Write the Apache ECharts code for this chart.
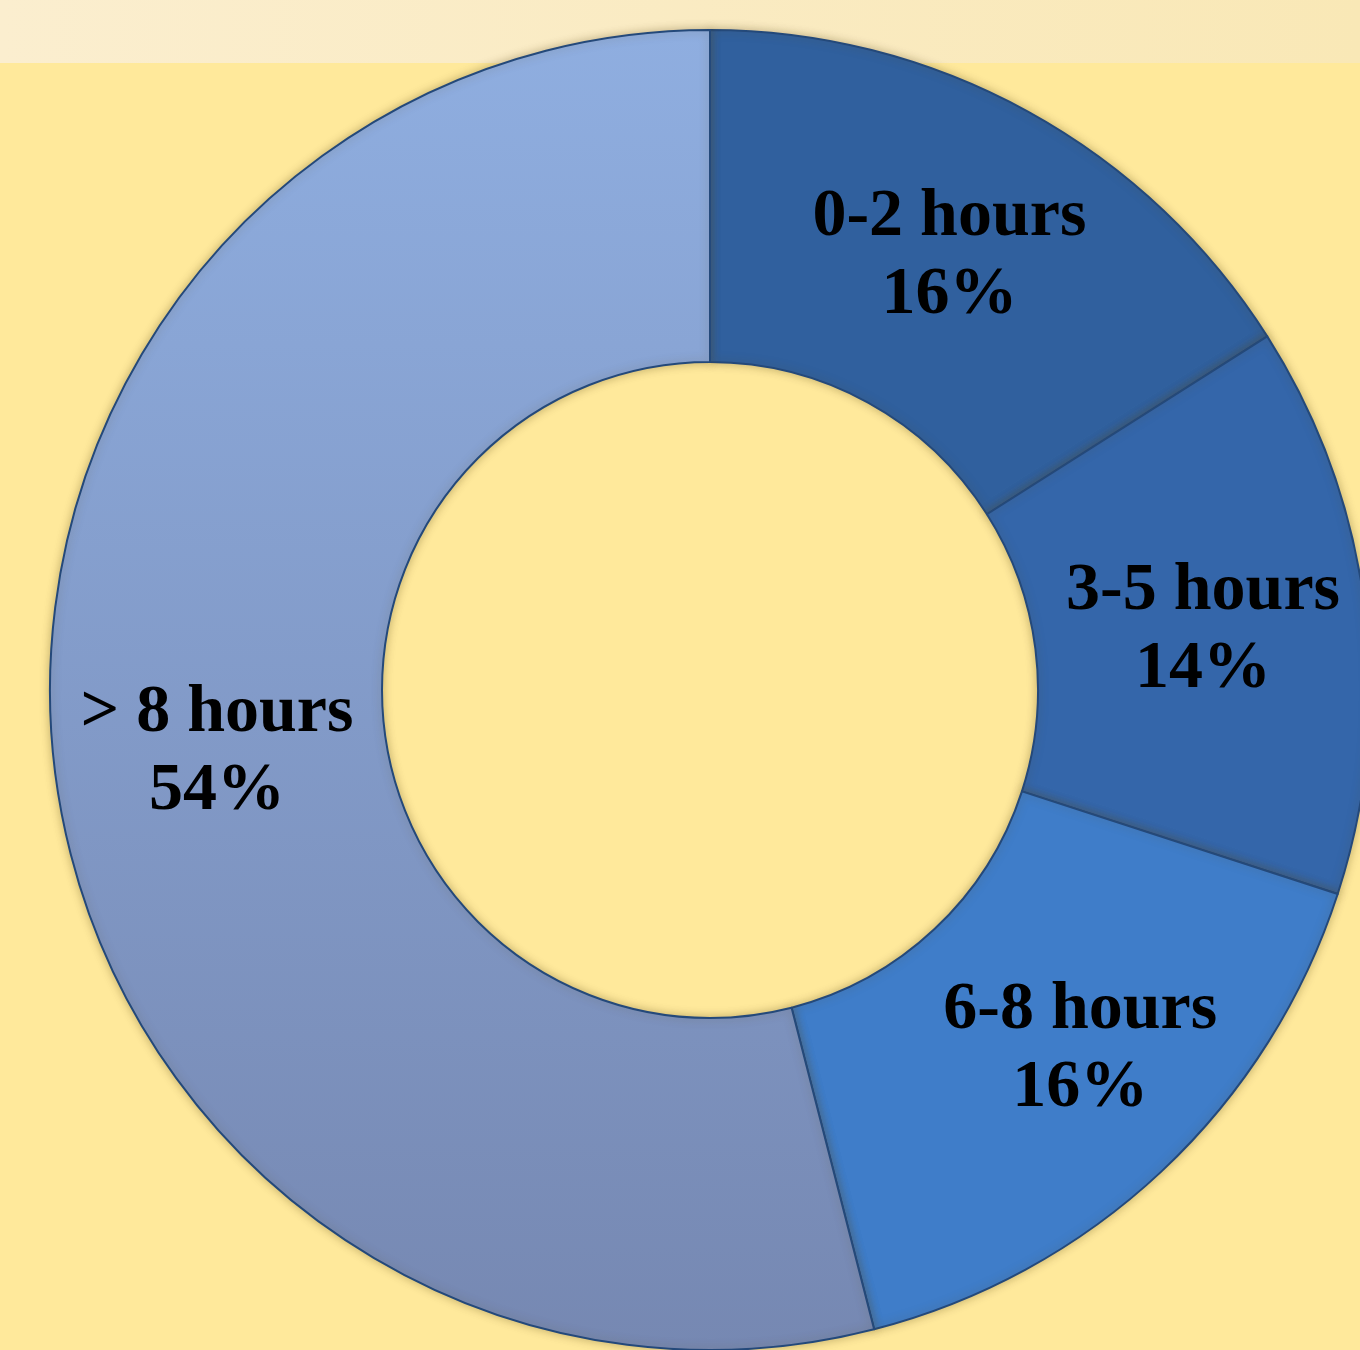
<!DOCTYPE html>
<html>
<head>
<meta charset="utf-8">
<script src="https://cdn.jsdelivr.net/npm/echarts@6/dist/echarts.min.js"></script>
<style>
html,body{margin:0;padding:0;background:#FFE99B;}
#chart{width:1360px;height:1350px;}
</style>
</head>
<body>
<div id="chart"></div>
<script>
var categories = ['0-2 hours', '3-5 hours', '6-8 hours', '> 8 hours'];
var values = [16, 14, 16, 54];
var sliceColors = ['#30609E', '#3466AA', '#3F7DC9', null];
var labelShift = [[0, 2], [0, 3], [30, -3], [0, 0]];

var chart = echarts.init(document.getElementById('chart'));
var data = categories.map(function (c, i) {
  var color = sliceColors[i] || new echarts.graphic.LinearGradient(0, 0, 0, 1, [
    { offset: 0, color: '#8FAEE0' },
    { offset: 1, color: '#7688B2' }
  ]);
  return { name: c, value: values[i], itemStyle: { color: color }, label: { offset: labelShift[i] } };
});

chart.setOption({
  backgroundColor: '#FFE99B',
  graphic: [{
    type: 'rect',
    left: 0, top: 0, z: -10,
    shape: { width: 1360, height: 63 },
    style: {
      fill: new echarts.graphic.LinearGradient(0, 0, 1, 0, [
        { offset: 0, color: '#FBEECF' },
        { offset: 1, color: '#F9E8B6' }
      ])
    }
  }],
  series: [{
    type: 'pie',
    center: [710, 690],
    radius: [328, 660],
    startAngle: 90,
    clockwise: true,
    avoidLabelOverlap: false,
    silent: true,
    animation: false,
    itemStyle: {
      borderColor: '#24497A',
      borderWidth: 2,
      shadowColor: 'rgba(90,70,20,0.35)',
      shadowBlur: 10
    },
    label: {
      show: true,
      position: 'inside',
      formatter: function (p) { return p.name + '\n' + p.value + '%'; },
      fontFamily: '"Liberation Serif", "Times New Roman", serif',
      fontWeight: 'bold',
      fontSize: 68,
      lineHeight: 78,
      color: '#000',
      align: 'center'
    },
    labelLine: { show: false },
    data: data
  }]
});
</script>
</body>
</html>
